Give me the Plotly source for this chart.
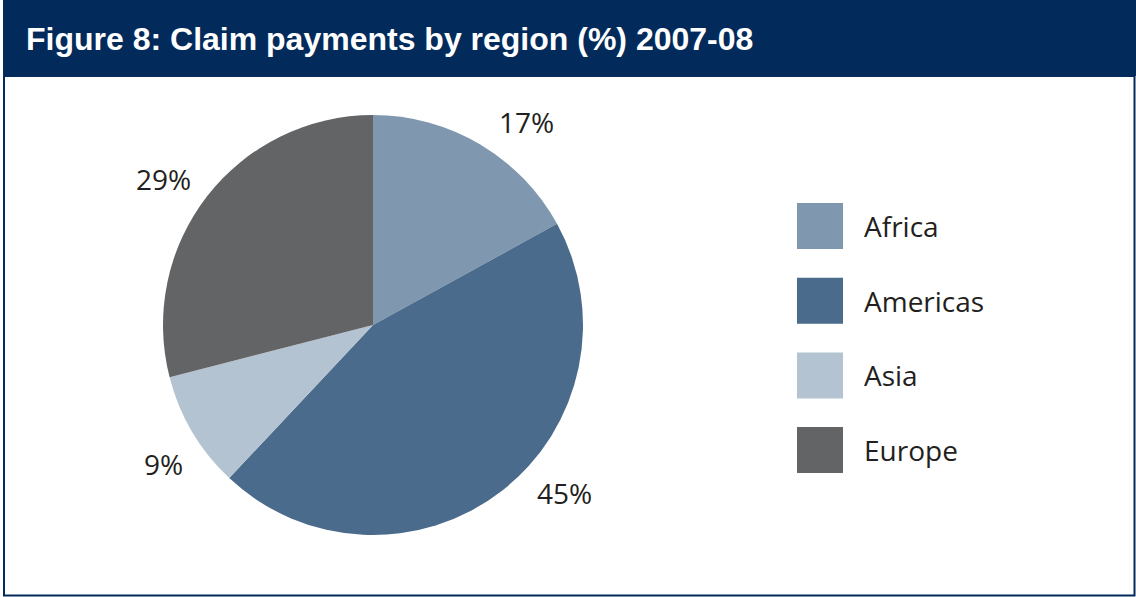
import math
import plotly.graph_objects as go

# Claim payments by region, 2007-08 (%)
regions = ["Africa", "Americas", "Asia", "Europe"]
shares = [17, 45, 9, 29]
colors = ["#7f98af", "#4a6b8c", "#b4c3d1", "#636466"]

title_text = "Figure 8: Claim payments by region (%) 2007-08"

W, H = 1136, 597
NAVY = "#022b5c"
TEXT = "#231f20"
BODY_FONT = "Open Sans"

# pie geometry (pixels)
PIE_CX, PIE_CY, PIE_R = 373, 325, 210

# percentage labels: offset angle from slice middle (deg) and distance from centre (px)
label_shift = [6.5, -11, -3, -3]
label_dist = [255, 255, 252, 255]


def px(x):
    return x / W


def py(y):
    return 1 - y / H


fig = go.Figure(
    go.Pie(
        labels=regions,
        values=shares,
        marker=dict(colors=colors, line=dict(width=0)),
        sort=False,
        direction="clockwise",
        rotation=0,
        textinfo="none",
        hoverinfo="label+percent",
        showlegend=False,
        domain=dict(
            x=[px(PIE_CX - PIE_R), px(PIE_CX + PIE_R)],
            y=[py(PIE_CY + PIE_R), py(PIE_CY - PIE_R)],
        ),
    )
)

annotations = []
shapes = []

# percentage labels around the pie
total = sum(shares)
cum = 0
for v, shift, dist in zip(shares, label_shift, label_dist):
    mid = (cum + v / 2) / total * 360 + shift
    cum += v
    a = math.radians(mid)
    lx = PIE_CX + dist * math.sin(a)
    ly = PIE_CY - dist * math.cos(a)
    annotations.append(dict(
        x=px(lx), y=py(ly), xref="paper", yref="paper",
        text=f"{v}%", showarrow=False,
        xanchor="center", yanchor="middle",
        font=dict(family=BODY_FONT, size=28, color=TEXT),
    ))

# legend drawn as swatches + labels
LEG_X, LEG_Y0, LEG_STEP, SW = 797, 226, 74.7, 46
for i, (name, col) in enumerate(zip(regions, colors)):
    yc = LEG_Y0 + i * LEG_STEP
    shapes.append(dict(
        type="rect", xref="paper", yref="paper",
        x0=px(LEG_X), x1=px(LEG_X + SW),
        y0=py(yc + SW / 2), y1=py(yc - SW / 2),
        fillcolor=col, line=dict(width=0), layer="above",
    ))
    annotations.append(dict(
        x=px(862), y=py(yc), xref="paper", yref="paper",
        text=name, showarrow=False, xanchor="left", yanchor="middle",
        font=dict(family=BODY_FONT, size=28, color=TEXT),
    ))

# header band and frame
shapes.insert(0, dict(
    type="rect", xref="paper", yref="paper",
    x0=px(3), x1=px(1136), y0=py(76), y1=py(0),
    fillcolor=NAVY, line=dict(width=0), layer="below",
))
shapes.append(dict(
    type="rect", xref="paper", yref="paper",
    x0=px(4), x1=px(1134.5), y0=py(595.5), y1=py(76),
    fillcolor="rgba(0,0,0,0)", line=dict(color=NAVY, width=2), layer="above",
))

annotations.append(dict(
    x=px(24), y=py(39), xref="paper", yref="paper",
    text=f"<b>{title_text}</b>", showarrow=False,
    xanchor="left", yanchor="middle",
    font=dict(family="Liberation Sans, Arial", size=32, color="white"),
))

fig.update_layout(
    width=W, height=H,
    margin=dict(l=0, r=0, t=0, b=0),
    paper_bgcolor="white",
    plot_bgcolor="white",
    shapes=shapes,
    annotations=annotations,
)

fig.write_html("out.html")
